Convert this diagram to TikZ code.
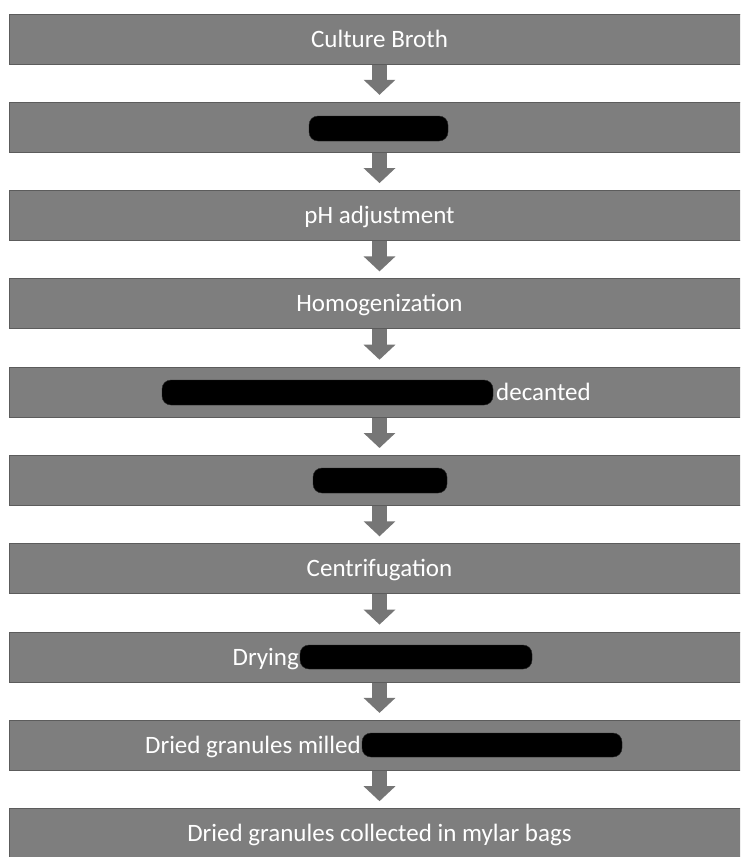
\documentclass[tikz,border=0pt]{standalone}
\usepackage{fontspec}
\setmainfont{Carlito}
\usetikzlibrary{arrows.meta}
\definecolor{barfill}{RGB}{126,126,126}
\definecolor{barline}{RGB}{92,92,92}
\definecolor{arrowc}{RGB}{118,118,118}
\tikzset{
  bar/.style={rectangle, fill=barfill, draw=barline, line width=1pt,
    minimum width=741pt, minimum height=50pt, inner sep=0pt, text=white,
    font=\fontsize{25}{30}\selectfont, text height=18pt, text depth=2pt},
  lbl/.style={text=white, font=\fontsize{25}{30}\selectfont, inner sep=0pt},
  redact/.style={rectangle, rounded corners=9pt, fill=black, draw=black!85,
    inner sep=0pt, minimum height=25pt},
  flow/.style={draw=arrowc, line width=15pt,
    -{Triangle[width=31pt,length=15pt]}, shorten >=7pt}
}
\begin{document}
\begin{tikzpicture}[x=1pt,y=-1pt]
\useasboundingbox (0,0) rectangle (740,857);
\clip (0,0) rectangle (740,857);
\fill[white] (0,0) rectangle (740,857);
% bars
\node[bar] (b1) at (379.5,39) {Culture Broth};
\node[bar] (b2) at (379.5,127.3) {};
\node[bar] (b3) at (379.5,215.6) {pH adjustment};
\node[bar] (b4) at (379.5,303.9) {Homogenization};
\node[bar] (b5) at (379.5,392.2) {};
\node[bar] (b6) at (379.5,480.5) {};
\node[bar] (b7) at (379.5,568.8) {Centrifugation};
\node[bar] (b8) at (379.5,657.1) {};
\node[bar] (b9) at (379.5,745.4) {};
\node[bar] (b10) at (379.5,833.7) {Dried granules collected in mylar bags};
% redactions and partial labels
\node[redact, minimum width=139pt] (r2) at (378.5,128.5) {};
\node[redact, minimum width=331pt] (r5) at (327.5,392.5) {};
\node[lbl, anchor=base west] (t5) at (496,400.2) {decanted};
\node[redact, minimum width=134pt] (r6) at (380,480.5) {};
\node[lbl, anchor=base east] (t8) at (299,665.1) {Drying};
\node[redact, minimum width=232pt, minimum height=24pt] (r8) at (416,657) {};
\node[lbl, anchor=base east] (t9) at (361,753.4) {Dried granules milled};
\node[redact, minimum width=260pt, minimum height=24pt] (r9) at (492,745) {};
% arrows
\foreach \a/\b in {b1/b2,b2/b3,b3/b4,b4/b5,b5/b6,b6/b7,b7/b8,b8/b9,b9/b10}
  \draw[flow] (\a) -- (\b);
\end{tikzpicture}
\end{document}
